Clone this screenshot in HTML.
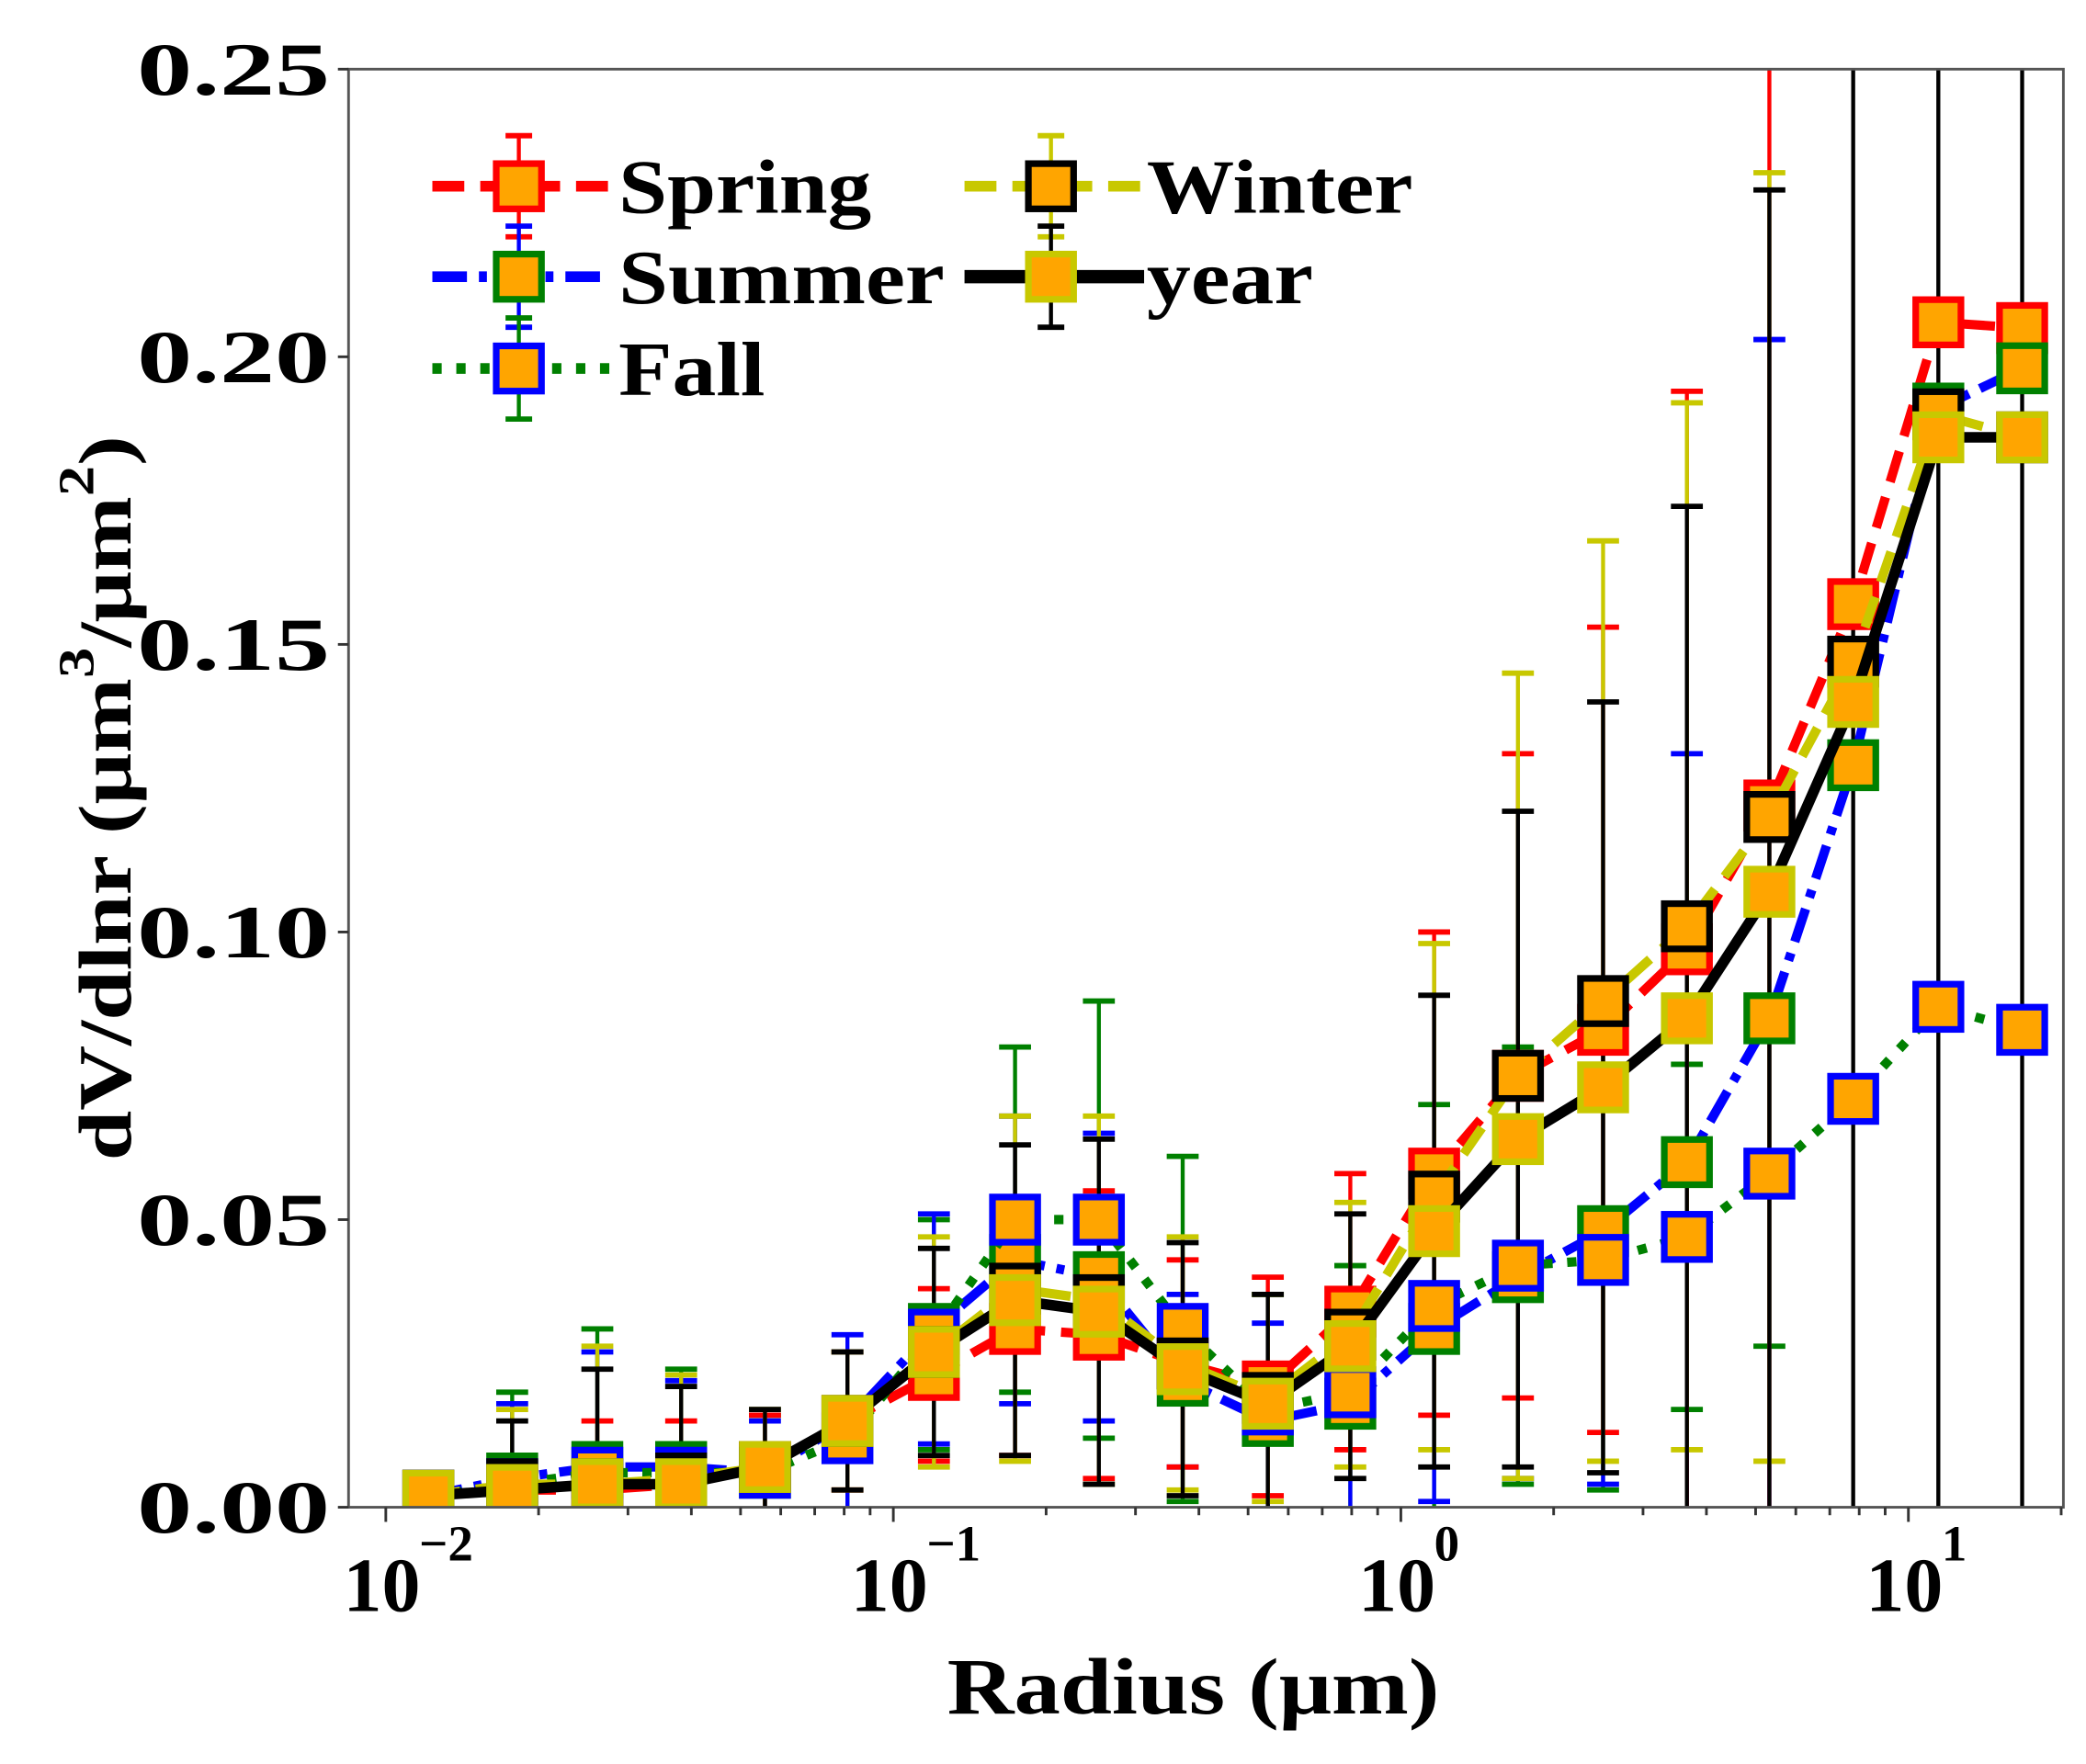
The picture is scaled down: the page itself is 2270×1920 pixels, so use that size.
<!DOCTYPE html>
<html><head><meta charset="utf-8"><style>html,body{margin:0;padding:0;background:#fff}svg{display:block}text{font-family:"Liberation Serif","Times New Roman",serif;font-weight:bold;fill:#000}</style></head>
<body>
<svg id="s" width="2270" height="1920" viewBox="0 0 1568 1326" preserveAspectRatio="none" xmlns="http://www.w3.org/2000/svg" font-family="Liberation Serif, serif"></svg>
<script>
const S=document.getElementById('s');let h='';
const X0=262,X1=1551,Y0=1133,Y1=52;
const lx=v=>290+(Math.log10(v)+2)*381.5;
const Y=v=>Y0-v*4324;
const xs=[322,385,449,512,575,637,702,763,826,889,953,1015,1078,1141,1205,1268,1330,1393,1457,1520];
const D={
spring:[0.002,0.003,0.003,0.004,0.007,0.015,0.023,0.031,0.030,0.025,0.021,0.034,0.058,0.075,0.083,0.097,0.122,0.157,0.206,0.205],
summer:[0.002,0.005,0.007,0.007,0.006,0.015,0.031,0.043,0.040,0.022,0.015,0.018,0.031,0.040,0.048,0.060,0.085,0.129,0.191,0.198],
fall:[0.002,0.004,0.006,0.006,0.006,0.012,0.030,0.050,0.050,0.031,0.017,0.020,0.035,0.042,0.043,0.047,0.058,0.071,0.087,0.083],
winter:[0.002,0.004,0.004,0.005,0.007,0.015,0.027,0.038,0.036,0.025,0.019,0.030,0.054,0.075,0.088,0.101,0.120,0.147,0.190,0.186],
year:[0.002,0.003,0.004,0.004,0.007,0.015,0.027,0.036,0.034,0.024,0.018,0.028,0.048,0.064,0.073,0.085,0.107,0.140,0.186,0.186]};
const E={
year:[0.002,0.012,0.02,0.017,0.01,0.012,0.018,0.027,0.03,0.022,0.019,0.023,0.041,0.057,0.067,0.089,0.122,0.3,0.3,0.3],
spring:[0.002,0.006,0.012,0.011,0.009,0.012,0.015,0.022,0.025,0.018,0.019,0.024,0.042,0.056,0.07,0.097,0.15,0.004,0.004,0.004],
winter:[0.002,0.013,0.024,0.018,0.01,0.012,0.02,0.03,0.032,0.022,0.018,0.023,0.044,0.07,0.08,0.091,0.112,0.004,0.004,0.004],
summer:[0.002,0.013,0.02,0.015,0.009,0.015,0.02,0.025,0.025,0.015,0.017,0.02,0.03,0.035,0.044,0.071,0.118,0.004,0.004,0.004],
fall:[0.002,0.016,0.025,0.018,0.01,0.015,0.02,0.03,0.038,0.03,0.02,0.022,0.035,0.038,0.04,0.03,0.03,0.004,0.004,0.004]};
const ST={
spring:{c:'#ff0000',e:'#ff0000',d:'24,12',w:7},
summer:{c:'#0000ff',e:'#008000',d:'26,9,6,9',w:7},
fall:{c:'#008000',e:'#0000ff',d:'7,11',w:7},
winter:{c:'#c8c800',e:'#000000',d:'24,12',w:7},
year:{c:'#000000',e:'#c8c800',d:'',w:8}};
const order=['spring','summer','fall','winter','year'];
h+=`<defs><clipPath id="cp"><rect x="${X0}" y="${Y1}" width="${X1-X0}" height="${Y0-Y1}"/></clipPath></defs>`;
h+=`<g clip-path="url(#cp)">`;
for(const k of ['fall','summer','spring','winter','year']){const c=ST[k].c;
 xs.forEach((x,i)=>{const v=D[k][i],e=E[k][i];const a=Y(v+e),b=Y(Math.max(0,v-e));
 h+=`<line x1="${x}" y1="${a}" x2="${x}" y2="${b}" stroke="${c}" stroke-width="3"/>`;
 h+=`<line x1="${x-12}" y1="${a}" x2="${x+12}" y2="${a}" stroke="${c}" stroke-width="4"/>`;
 if(v-e>0)h+=`<line x1="${x-12}" y1="${b}" x2="${x+12}" y2="${b}" stroke="${c}" stroke-width="4"/>`;});}
for(const k of order){const s=ST[k];
 h+=`<polyline fill="none" stroke="${s.c}" stroke-width="${s.w}" ${s.d?`stroke-dasharray="${s.d}"`:''} points="${xs.map((x,i)=>x+','+Y(D[k][i])).join(' ')}"/>`;
 xs.forEach((x,i)=>{h+=`<rect x="${x-17}" y="${Y(D[k][i])-17}" width="34" height="34" fill="#ffa500" stroke="${s.e}" stroke-width="5"/>`;});}
h+=`</g>`;
h+=`<rect x="${X0}" y="${Y1}" width="${X1-X0}" height="${Y0-Y1}" fill="none" stroke="#555" stroke-width="2"/>`;
['0.00','0.05','0.10','0.15','0.20','0.25'].forEach((t,i)=>{const y=Y(i*0.05);
 h+=`<line x1="${X0-8}" y1="${y}" x2="${X0}" y2="${y}" stroke="#333" stroke-width="2"/>`;
 h+=`<text x="248" y="${y+19}" font-size="56" text-anchor="end" textLength="145" lengthAdjust="spacingAndGlyphs">${t}</text>`;});
for(let d=-2;d<=1;d++){for(let m=1;m<10;m++){const v=m*Math.pow(10,d);const x=lx(v);if(x<X0||x>X1)continue;
 h+=`<line x1="${x}" y1="${Y0}" x2="${x}" y2="${Y0+(m==1?11:6)}" stroke="#333" stroke-width="2"/>`;}
 const x=lx(Math.pow(10,d));
 h+=`<text x="${x-3}" y="${Y0+78}" font-size="58" text-anchor="middle">10</text>`;
 h+=`<text x="${x+25}" y="${Y0+40}" font-size="38" text-anchor="start">${d<0?'−'+(-d):d}</text>`;}
h+=`<text x="897" y="1288" font-size="60" text-anchor="middle" textLength="370" lengthAdjust="spacingAndGlyphs">Radius (μm)</text>`;
h+=`<text transform="translate(98,600) rotate(-90)" font-size="56" text-anchor="middle" textLength="545" lengthAdjust="spacingAndGlyphs">dV/dlnr (μm<tspan dy="-28" font-size="38">3</tspan><tspan dy="28">/μm</tspan><tspan dy="-28" font-size="38">2</tspan><tspan dy="28">)</tspan></text>`;
const L=[['spring',390,140,'Spring',465,190],['summer',390,208,'Summer',465,245],['fall',390,277,'Fall',465,110],['winter',790,140,'Winter',862,200],['year',790,208,'year',862,125]];
for(const [k,mx,y,t,tx,tw] of L){const s=ST[k];
 h+=`<line x1="${mx-65}" y1="${y}" x2="${mx+70}" y2="${y}" stroke="${s.c}" stroke-width="${k=='year'?10:8}" ${s.d?`stroke-dasharray="${s.d}"`:''}/>`;
 h+=`<line x1="${mx}" y1="${y-38}" x2="${mx}" y2="${y+38}" stroke="${s.c}" stroke-width="3"/>`;
 h+=`<line x1="${mx-10}" y1="${y-38}" x2="${mx+10}" y2="${y-38}" stroke="${s.c}" stroke-width="4"/><line x1="${mx-10}" y1="${y+38}" x2="${mx+10}" y2="${y+38}" stroke="${s.c}" stroke-width="4"/>`;
 h+=`<rect x="${mx-17}" y="${y-17}" width="34" height="34" fill="#ffa500" stroke="${s.e}" stroke-width="5"/>`;
 h+=`<text x="${tx}" y="${y+20}" font-size="58" textLength="${tw}" lengthAdjust="spacingAndGlyphs">${t}</text>`;}
S.innerHTML=h;
</script>
</body></html>
